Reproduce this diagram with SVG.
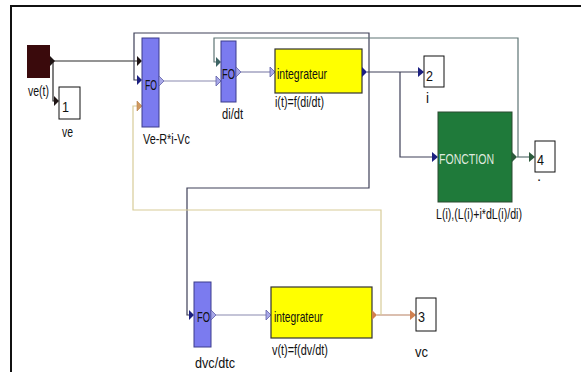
<svg xmlns="http://www.w3.org/2000/svg" width="581" height="372" viewBox="0 0 581 372">
<style>
  text { font-family: "Liberation Sans", Arial, sans-serif; font-size: 15px; fill: #111; }
  .fo { fill: #7b7bef; stroke: #3c3c8c; stroke-width: 1; }
  .integ { fill: #ffff00; stroke: #333; stroke-width: 1.2; }
  .fonc { fill: #1f7a3a; stroke: #2a4a30; stroke-width: 1; }
  .port { fill: #fff; stroke: #111; stroke-width: 1; }
  .w { fill: none; stroke-width: 1.2; }
  .dark { stroke: #2a2a2a; }
  .navyw { stroke: #3e4058; }
  .purw { stroke: #8a8ab0; }
  .tealw { stroke: #5e7474; }
  .tanw { stroke: #d8cc98; }
  .orw { stroke: #b88060; }
  .a-dark { fill: #1e1414; }
  .a-navy { fill: #1c2080; }
  .a-pur { fill: #a8a8e8; stroke: #6060a8; stroke-width: 0.8; }
  .a-teal { fill: #3c6464; }
  .a-tan { fill: #d09a60; stroke: #b88048; stroke-width: 0.6; }
  .a-green { fill: #2c5a3c; }
  .a-or { fill: #d08050; }
</style>

<!-- frame -->
<path d="M11,372 V6 H581" fill="none" stroke="#111" stroke-width="2"/>

<g id="connectors">
  <path class="w dark" d="M54,61 H137"/>
  <path class="w dark" d="M53,61 V101 H55"/>
  <path class="w navyw" d="M137,80 H134 V33 H369 V188 H187 V315 H189"/>
  <path class="w purw" d="M164,81 H216"/>
  <path class="w purw" d="M241,72 H270"/>
  <path class="w navyw" d="M367,72 H418"/>
  <path class="w navyw" d="M400,72 V157 H432"/>
  <path class="w tealw" d="M517,157 H529"/>
  <path class="w tealw" d="M518,157 V38 H214 V62 H216"/>
  <path class="w purw" d="M216,315 H266"/>
  <path class="w orw" d="M377,315 H410"/>
  <path class="w tanw" d="M381,315 V210 H133 V106 H137"/>
</g>

<g id="source_ve_t">
  <rect x="27" y="45" width="23" height="33" fill="#3a0a0c"/>
  <polygon class="a-dark" points="50,56 55,61 50,66"/>
  <text x="28" y="96" textLength="21" lengthAdjust="spacingAndGlyphs">ve(t)</text>
</g>

<g id="out1">
  <polygon class="a-dark" points="54,96 59,101 54,106"/>
  <rect class="port" x="59" y="87" width="21" height="32"/>
  <text x="62" y="112" textLength="7" lengthAdjust="spacingAndGlyphs">1</text>
  <text x="62" y="137" textLength="11" lengthAdjust="spacingAndGlyphs">ve</text>
</g>

<g id="fo1">
  <polygon class="a-dark" points="137,56 142,61 137,66"/>
  <polygon class="a-navy" points="137,75 142,80 137,85"/>
  <polygon class="a-tan" points="137,101 142,106 137,111"/>
  <rect class="fo" x="142" y="38" width="17" height="89"/>
  <polygon class="a-pur" points="159,76 164,81 159,86"/>
  <text x="145" y="90" textLength="12" lengthAdjust="spacingAndGlyphs">FO</text>
  <text x="143" y="144" textLength="47" lengthAdjust="spacingAndGlyphs">Ve-R*i-Vc</text>
</g>

<g id="fo2">
  <polygon class="a-teal" points="216,57 221,62 216,67"/>
  <polygon class="a-pur" points="216,76 221,81 216,86"/>
  <rect class="fo" x="221" y="41" width="15" height="61"/>
  <polygon class="a-pur" points="236,67 241,72 236,77"/>
  <text x="222" y="79" textLength="13" lengthAdjust="spacingAndGlyphs">FO</text>
  <text x="222" y="119" textLength="21" lengthAdjust="spacingAndGlyphs">di/dt</text>
</g>

<g id="integrateur1">
  <polygon class="a-pur" points="270,67 275,72 270,77"/>
  <rect class="integ" x="275" y="49" width="87" height="44"/>
  <polygon class="a-navy" points="362,67 367,72 362,77"/>
  <text x="277" y="79" textLength="50" lengthAdjust="spacingAndGlyphs">integrateur</text>
  <text x="275" y="107" textLength="49" lengthAdjust="spacingAndGlyphs">i(t)=f(di/dt)</text>
</g>

<g id="out2">
  <polygon class="a-navy" points="418,67 424,72 418,77"/>
  <rect class="port" x="424" y="56" width="20" height="31"/>
  <text x="426" y="81" textLength="7" lengthAdjust="spacingAndGlyphs">2</text>
  <text x="426" y="103" textLength="3" lengthAdjust="spacingAndGlyphs">i</text>
</g>

<g id="fonction">
  <polygon class="a-navy" points="432,152 438,157 432,162"/>
  <rect class="fonc" x="438" y="112" width="74" height="90"/>
  <polygon class="a-green" points="512,152 517,157 512,162"/>
  <text x="439" y="164" textLength="55" lengthAdjust="spacingAndGlyphs" style="fill:#dfe9df">FONCTION</text>
  <text x="436" y="219" textLength="86" lengthAdjust="spacingAndGlyphs">L(i),(L(i)+i*dL(i)/di)</text>
</g>

<g id="out4">
  <polygon class="a-green" points="529,152 535,157 529,162"/>
  <rect class="port" x="535" y="141" width="20" height="31"/>
  <text x="537" y="165" textLength="7" lengthAdjust="spacingAndGlyphs">4</text>
  <text x="537" y="181">.</text>
</g>

<g id="fo3">
  <polygon class="a-navy" points="189,310 194,315 189,320"/>
  <rect class="fo" x="194" y="282" width="17" height="65"/>
  <polygon class="a-pur" points="211,310 216,315 211,320"/>
  <text x="197" y="322" textLength="13" lengthAdjust="spacingAndGlyphs">FO</text>
  <text x="195" y="368" textLength="40" lengthAdjust="spacingAndGlyphs">dvc/dtc</text>
</g>

<g id="integrateur2">
  <polygon class="a-pur" points="266,310 271,315 266,320"/>
  <rect class="integ" x="271" y="287" width="101" height="51"/>
  <polygon class="a-or" points="372,310 377,315 372,320"/>
  <text x="274" y="322" textLength="49" lengthAdjust="spacingAndGlyphs">integrateur</text>
  <text x="272" y="355" textLength="56" lengthAdjust="spacingAndGlyphs">v(t)=f(dv/dt)</text>
</g>

<g id="out3">
  <polygon class="a-or" points="410,310 416,315 410,320"/>
  <rect class="port" x="416" y="298" width="20" height="33"/>
  <text x="418" y="322" textLength="7" lengthAdjust="spacingAndGlyphs">3</text>
  <text x="415" y="357" textLength="13" lengthAdjust="spacingAndGlyphs">vc</text>
</g>
</svg>
